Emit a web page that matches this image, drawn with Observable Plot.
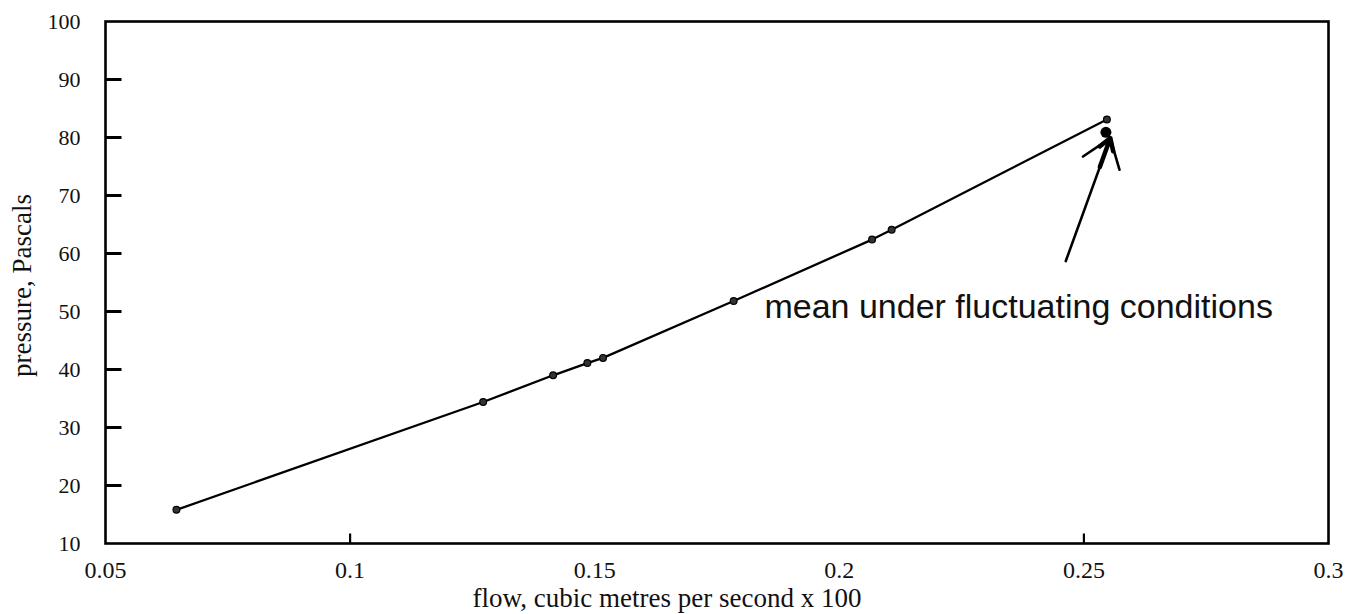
<!DOCTYPE html>
<html><head><meta charset="utf-8">
<script src="https://cdn.jsdelivr.net/npm/d3@7"></script>
<script src="https://cdn.jsdelivr.net/npm/@observablehq/plot@0.6"></script>
<style>html,body{margin:0;padding:0;background:#fff}</style>
</head><body><div id="chart"></div>
<script>
// measured points
const flow = [0.0645, 0.1272, 0.1415, 0.1485, 0.1517, 0.1784, 0.2067, 0.2107, 0.2547];
const pressure = [15.8, 34.4, 39.0, 41.1, 42.0, 51.8, 62.4, 64.1, 83.1];
// mean under fluctuating conditions
const meanFlow = [0.2545];
const meanPressure = [80.9];
const annotation = ["mean under fluctuating conditions"];
const annotationFlow = [0.1847];
const annotationPressure = [48.9];
const arrowFlow = [0.2463, 0.2554];
const arrowPressure = [58.7, 79.9];
// axes
const xTicks = [0.05, 0.1, 0.15, 0.2, 0.25, 0.3];
const xTickLabels = ["0.05", "0.1", "0.15", "0.2", "0.25", "0.3"];
const yTicks = [10, 20, 30, 40, 50, 60, 70, 80, 90, 100];
const xMarkTicks = [0.1, 0.25];
const yMarkTicks = [20, 30, 40, 50, 60, 70, 80, 90];
const xTitle = "flow, cubic metres per second x 100";
const yTitle = "pressure, Pascals";

const points = flow.map((f, i) => ({flow: f, pressure: pressure[i]}));
const mean = meanFlow.map((f, i) => ({flow: f, pressure: meanPressure[i]}));
const notes = annotation.map((t, i) => ({text: t, flow: annotationFlow[i], pressure: annotationPressure[i]}));
const arrows = [{x1: arrowFlow[0], y1: arrowPressure[0], x2: arrowFlow[1], y2: arrowPressure[1]}];

// inward tick glyphs (drawn from the frame edge into the plot)
const inwardRight = {draw(ctx) { ctx.moveTo(0, 0); ctx.lineTo(16, 0); }};
const inwardUp = {draw(ctx) { ctx.moveTo(0, 0); ctx.lineTo(0, -10); }};

const chart = Plot.plot({
  width: 1354,
  height: 614,
  marginLeft: 105,
  marginRight: 26,
  marginTop: 21,
  marginBottom: 71,
  style: {fontFamily: "'Liberation Serif', 'Times New Roman', serif", color: "#111", background: "#fff"},
  x: {domain: [0.05, 0.3]},
  y: {domain: [10, 100]},
  marks: [
    Plot.frame({stroke: "#000", strokeWidth: 2.6}),
    Plot.dot(yMarkTicks, {y: d => d, frameAnchor: "left", symbol: inwardRight, r: 5, fill: "none", stroke: "#000", strokeWidth: 3}),
    Plot.dot(xMarkTicks, {x: d => d, frameAnchor: "bottom", symbol: inwardUp, r: 5, fill: "none", stroke: "#000", strokeWidth: 2.2}),
    // tick labels
    Plot.axisY(yTicks, {tickSize: 0, tickPadding: 25, fontSize: 22, label: null, tickFormat: d => String(d)}),
    Plot.axisX(xTicks, {tickSize: 0, tickPadding: 17, fontSize: 24, label: null, tickFormat: d => xTickLabels[xTicks.indexOf(d)]}),
    // axis titles
    Plot.text([xTitle], {frameAnchor: "bottom", text: d => d, textAnchor: "middle", dx: -50, dy: 63, lineAnchor: "bottom", fontSize: 27, fill: "#111"}),
    Plot.text([yTitle], {frameAnchor: "left", text: d => d, textAnchor: "middle", dx: -75, dy: 3, rotate: -90, lineAnchor: "bottom", fontSize: 27, fill: "#111"}),
    // data
    Plot.line(points, {x: "flow", y: "pressure", stroke: "#000", strokeWidth: 2.3}),
    Plot.dot(points, {x: "flow", y: "pressure", r: 3.4, fill: "#333", stroke: "#000", strokeWidth: 1.2}),
    Plot.dot(mean, {x: "flow", y: "pressure", r: 5.5, fill: "#000"}),
    Plot.arrow(arrows, {x1: "x1", y1: "y1", x2: "x2", y2: "y2", stroke: "#000", strokeWidth: 2.6, headAngle: 72, headLength: 19}),
    Plot.arrow(arrows, {x1: "x1", y1: "y1", x2: "x2", y2: "y2", insetStart: 100, stroke: "#000", strokeWidth: 4.5, headAngle: 64, headLength: 4.5}),
    Plot.text(notes, {x: "flow", y: "pressure", text: "text", textAnchor: "start", lineAnchor: "bottom", fontSize: 34, fontFamily: "'Liberation Sans', Arial, sans-serif", fill: "#111"})
  ]
});
document.getElementById("chart").appendChild(chart);
</script>
</body></html>
